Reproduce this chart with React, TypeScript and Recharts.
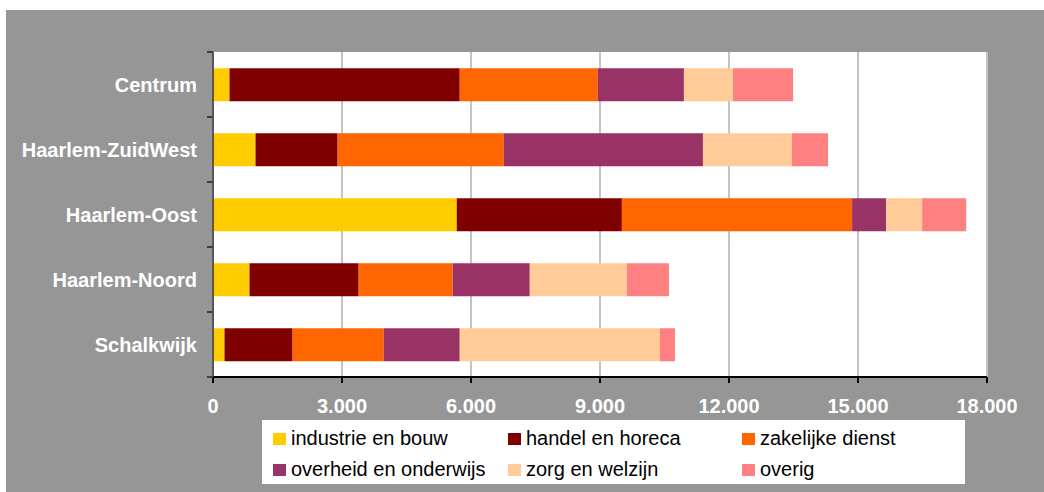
import { Bar, BarChart, CartesianGrid, Legend, XAxis, YAxis } from "recharts";

const districts = ["Centrum", "Haarlem-ZuidWest", "Haarlem-Oost", "Haarlem-Noord", "Schalkwijk"];
const industrie = [384, 989, 5668, 850, 268];
const handel = [5354, 1909, 3841, 2537, 1583];
const zakelijk = [3212, 3864, 5354, 2188, 2118];
const overheid = [2002, 4632, 791, 1792, 1769];
const zorg = [1141, 2072, 838, 2258, 4655];
const overig = [1397, 838, 1024, 978, 350];
const xTicks = [0, 3000, 6000, 9000, 12000, 15000, 18000];

const series = [
  { key: "industrie", name: "industrie en bouw", values: industrie, color: "#FFCC00" },
  { key: "handel", name: "handel en horeca", values: handel, color: "#800000" },
  { key: "zakelijk", name: "zakelijke dienst", values: zakelijk, color: "#FF6600" },
  { key: "overheid", name: "overheid en onderwijs", values: overheid, color: "#993366" },
  { key: "zorg", name: "zorg en welzijn", values: zorg, color: "#FFCC99" },
  { key: "overig", name: "overig", values: overig, color: "#FF8080" },
];

const data = districts.map((d, i) => {
  const row: Record<string, string | number> = { district: d };
  series.forEach((s) => (row[s.key] = s.values[i]));
  return row;
});

const font = "'Liberation Sans', Arial, sans-serif";

// thousands with a dot, Dutch style
const fmt = (v: number) => String(v).replace(/\B(?=(\d{3})+(?!\d))/g, ".");

function DistrictTick({ x, y, payload, index }: any) {
  const half = 32.5;
  return (
    <g>
      <line x1={x - 6} x2={x} y1={y - half} y2={y - half} stroke="#404040" strokeWidth={2} />
      {index === districts.length - 1 && (
        <line x1={x - 6} x2={x} y1={y + half} y2={y + half} stroke="#404040" strokeWidth={2} />
      )}
      <text x={x - 16} y={y} dy="0.35em" textAnchor="end" fill="#fff" fontWeight="bold" fontSize={20} fontFamily={font}>
        {payload.value}
      </text>
    </g>
  );
}

function LegendBox({ payload }: any) {
  // keep the series order, not the alphabetical one
  const order = series.map((s) => s.name);
  const items = [...(payload || [])].sort((a: any, b: any) => order.indexOf(a.value) - order.indexOf(b.value));
  return (
    <div
      style={{
        background: "#fff",
        width: 703,
        height: 64,
        boxSizing: "border-box",
        padding: "3px 0 0 11px",
        display: "grid",
        gridTemplateColumns: "235px 234px 234px",
        gridAutoRows: "31px",
        fontFamily: font,
        fontSize: 20,
        color: "#000",
      }}
    >
      {items.map((p: any) => (
        <div key={p.value} style={{ display: "flex", alignItems: "center", whiteSpace: "nowrap" }}>
          <span style={{ width: 13, height: 12, background: p.color, marginRight: 5, display: "inline-block" }} />
          {p.value}
        </div>
      ))}
    </div>
  );
}

export default function App() {
  return (
    <div style={{ position: "absolute", left: 6, top: 10, width: 1038, height: 482, background: "#969696" }}>
      <BarChart
        width={1038}
        height={482}
        data={data}
        layout="vertical"
        barCategoryGap="25%"
        margin={{ top: 42, right: 57, left: 0, bottom: 0 }}
      >
        <CartesianGrid horizontal={false} stroke="#c4c4c4" strokeWidth={2} fill="#fff" />
        <XAxis
          type="number"
          domain={[0, 18000]}
          ticks={xTicks}
          tickFormatter={fmt}
          height={115}
          axisLine={{ stroke: "#000", strokeWidth: 2 }}
          tickLine={{ stroke: "#000", strokeWidth: 2 }}
          tickSize={6}
          tickMargin={16}
          tick={{ fill: "#fff", fontSize: 20, fontWeight: "bold", fontFamily: font }}
        />
        <YAxis
          type="category"
          dataKey="district"
          width={207}
          axisLine={{ stroke: "#333", strokeWidth: 1.5 }}
          tickLine={false}
          tickSize={0}
          tickMargin={0}
          tick={<DistrictTick />}
          interval={0}
        />
        <Legend
          layout="horizontal"
          verticalAlign="middle"
          align="center"
          content={<LegendBox />}
          wrapperStyle={{ left: 256, top: 410, width: 703, height: 64 }}
        />
        {series.map((s) => (
          <Bar key={s.key} dataKey={s.key} name={s.name} stackId="a" fill={s.color} isAnimationActive={false} />
        ))}
      </BarChart>
    </div>
  );
}
